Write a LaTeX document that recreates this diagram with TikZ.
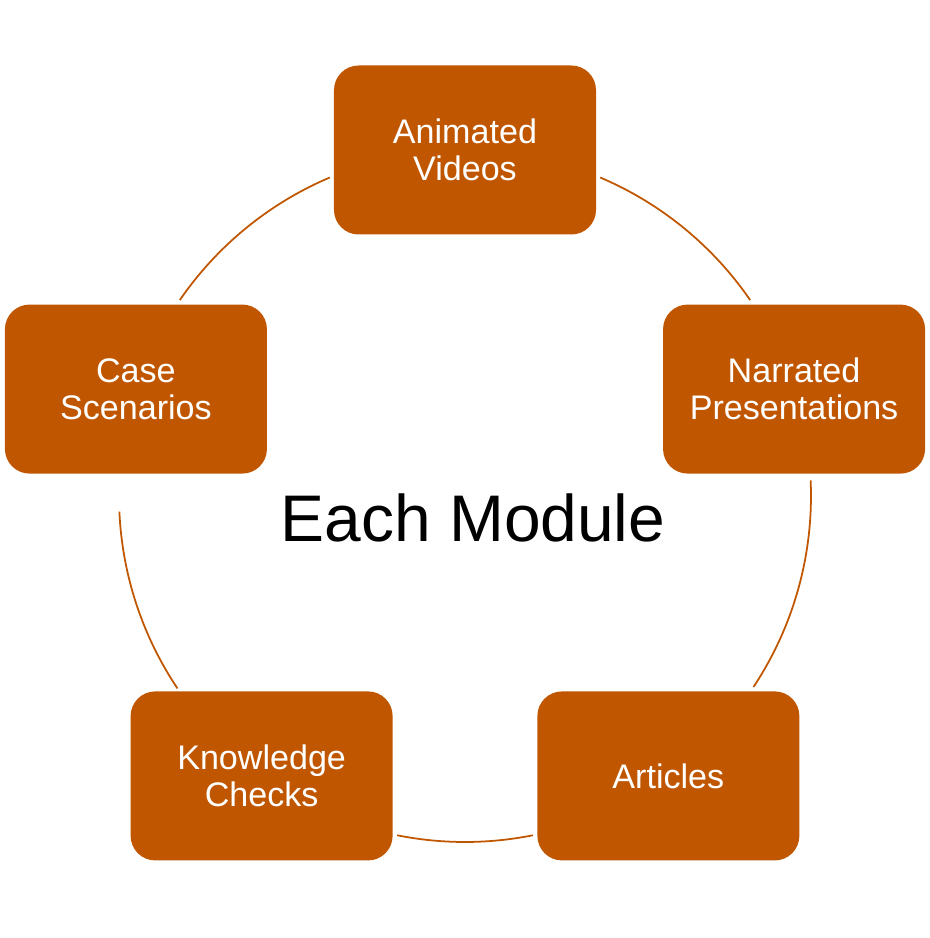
\documentclass[tikz,border=0pt]{standalone}
\usepackage{fontspec}
\setmainfont{Liberation Sans}
\usetikzlibrary{positioning,calc}
\definecolor{ModOrange}{HTML}{C05600}

\begin{document}
\begin{tikzpicture}[
    part/.style={
      fill=ModOrange,
      text=white,
      minimum width=5.24cm,
      minimum height=3.38cm,
      rounded corners=14pt,
      font=\fontsize{19.4}{21}\selectfont,
      align=center
    },
    ring/.style={
      draw=ModOrange,
      line width=1pt
    }
  ]
  \def\R{6.92}
  \useasboundingbox (-9.3,-8.84) rectangle (9.28,9.92);

  \coordinate (mid) at (0,0);

  % parts of a module
  \node[part] (videos)   at (90:\R)   {Animated\\Videos};
  \node[part] (narrated) at (18:\R)   {Narrated\\Presentations};
  \node[part] (articles) at (-54:\R)  {Articles};
  \node[part] (checks)   at (-126:\R) {Knowledge\\Checks};
  \node[part] (cases)    at (162:\R)  {Case\\Scenarios};

  % ring between the parts
  \draw[ring] ($(mid)+(67:\R)$) arc[start angle=67, end angle=34.5, radius=\R];
  \draw[ring] ($(mid)+(2.6:\R)$) arc[start angle=2.6, end angle=-33.5, radius=\R];
  \draw[ring] ($(mid)+(-78.7:\R)$) arc[start angle=-78.7, end angle=-101.3, radius=\R];
  \draw[ring] ($(mid)+(-146.2:\R)$) arc[start angle=-146.2, end angle=-177.4, radius=\R];
  \draw[ring] ($(mid)+(145.5:\R)$) arc[start angle=145.5, end angle=113, radius=\R];

  \node[font=\fontsize{37.5}{40}\selectfont] (module) at (0.16,-0.44) {Each Module};

\end{tikzpicture}
\end{document}
